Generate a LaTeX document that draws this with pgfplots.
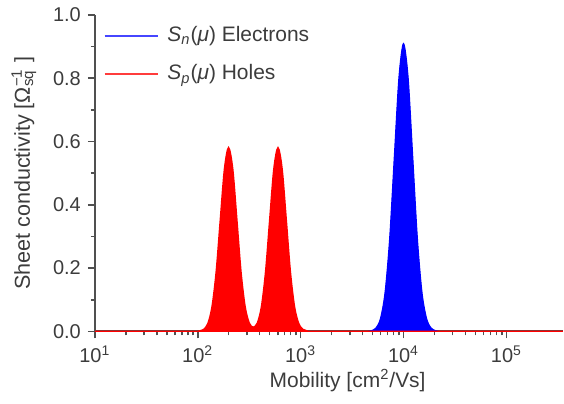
\documentclass[border=0pt]{standalone}
\usepackage{pgfplots}
\pgfplotsset{compat=1.18}
\usepackage{fontspec}
\setmainfont{Liberation Sans}
\definecolor{axgray}{RGB}{80,80,80}
\definecolor{txtgray}{RGB}{60,60,60}
\definecolor{legblue}{RGB}{70,70,255}
\definecolor{legred}{RGB}{255,60,60}
\begin{document}
\begin{tikzpicture}
\begin{axis}[
  scale only axis, width=234.5pt, height=158.5pt,
  xmode=log, xmin=10, xmax=354000, ymin=0, ymax=1,
  axis lines*=left,
  axis line style={draw=axgray, line width=1.1pt},
  every tick/.style={axgray, line width=0.8pt},
  tick align=outside,
  major tick length=3.5pt, minor tick length=2pt,
  xtick={10,100,1000,10000,100000},
  xticklabels={10\textsuperscript{1},10\textsuperscript{2},10\textsuperscript{3},10\textsuperscript{4},10\textsuperscript{5}},
  ytick={0,0.2,0.4,0.6,0.8,1.0},
  yticklabels={0.0,0.2,0.4,0.6,0.8,1.0},
  minor y tick num=1,
  tick label style={font=\fontsize{10}{11}\selectfont, text=txtgray},
  xlabel={Mobility [cm\textsuperscript{2}/Vs]},
  ylabel={Sheet conductivity [Ω\rlap{\textsuperscript{−1}}\textsubscript{sq}\hspace{0.35em}]},
  xlabel style={font=\fontsize{10.5}{12}\selectfont, text=txtgray, at={([yshift=-24.5pt]axis description cs:0.54,0)}, anchor=center},
  ylabel style={font=\fontsize{10.8}{12}\selectfont, text=txtgray, at={([xshift=-35.5pt]axis description cs:0,0.5)}, anchor=center, rotate=0},
  legend style={draw=none, fill=none, at={(0.005,0.99)}, anchor=north west,
    font=\fontsize{10.5}{12}\selectfont, text=txtgray, row sep=6pt},
  legend cell align=left,
  legend image code/.code={\draw[#1, line width=1.0pt, fill=none] (0pt,0pt) -- (27pt,0pt); \path[draw=none, fill=none] (0pt,0pt) -- (29.5pt,0pt);},
  clip=true,
]
\addplot[draw=blue, fill=blue, smooth, line width=0.5pt, legend image post style={draw=legblue}] coordinates {
(4500,0) (4842,0.002) (5370,0.0101) (5957,0.040) (6607,0.123) (7328,0.295)
(8128,0.552) (9016,0.803) (10000,0.91) (11092,0.803) (12303,0.552)
(13646,0.295) (15136,0.123) (16788,0.040) (18621,0.0101) (20654,0.002) (22000,0)
} \closedcycle;
\addlegendentry{\textit{S}\textsubscript{\textit{n}}(\textit{μ}) Electrons}
\addplot[draw=red, fill=red, smooth, line width=0.8pt, legend image post style={draw=legred}] coordinates {
(10,0) (95,0) (104.7,0.0013) (114.8,0.0064) (125.9,0.025) (138.0,0.078)
(151.4,0.188) (166.0,0.352) (182.0,0.512) (199.5,0.58) (218.8,0.512)
(239.9,0.352) (263.0,0.188) (288.4,0.078) (316.2,0.026) (346.7,0.0128)
(380.2,0.026) (416.9,0.078) (457.1,0.188) (501.2,0.352) (549.5,0.512)
(602.6,0.58) (660.7,0.512) (724.4,0.352) (794.3,0.188) (871.0,0.078)
(955.0,0.025) (1047.1,0.0064) (1148.2,0.0013) (1300,0) (354000,0)
} \closedcycle;
\addlegendentry{\textit{S}\textsubscript{\textit{p}}(\textit{μ}) Holes}
\end{axis}
\path ([xshift=-47.5pt, yshift=-36pt]current axis.south west) rectangle ([yshift=7.5pt]current axis.north east);
\end{tikzpicture}
\end{document}
